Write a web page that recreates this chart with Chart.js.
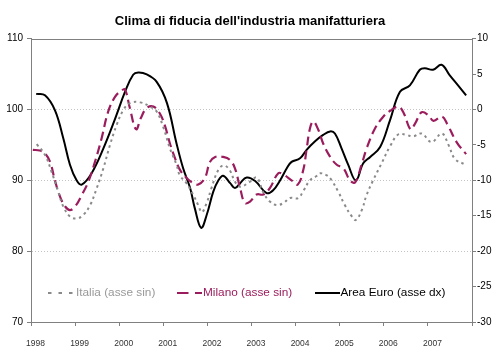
<!DOCTYPE html>
<html>
<head>
<meta charset="utf-8">
<script src="https://cdn.jsdelivr.net/npm/chart.js@4/dist/chart.umd.min.js"></script>
<style>
  html, body { margin: 0; padding: 0; background: #fff; }
  #wrap { width: 500px; height: 346px; position: relative; }
</style>
</head>
<body>
<div id="wrap"><canvas id="c" width="500" height="346"></canvas></div>
<script>
// ---- DATA (x positions in months since Jan 1998) ----
const titleText = "Clima di fiducia dell'industria manifatturiera";
const seriesNames = ["Italia (asse sin)", "Milano (asse sin)", "Area Euro (asse dx)"];
const yearTicks = [1998, 1999, 2000, 2001, 2002, 2003, 2004, 2005, 2006, 2007];

const italiaMonths = [1.55, 3.8, 5.6, 7.4, 8.8, 10.6, 12.4, 14.2, 16.1, 17.9, 19.7, 21.5, 23.3, 25.1, 26.9, 29.7, 32.4, 34.2, 36.0, 37.8, 39.6, 40.5, 42.3, 44.2, 45.5, 46.5, 47.8, 49.1, 51.0, 52.5, 54.1, 55.5, 56.9, 59.6, 61.4, 63.2, 65.0, 66.9, 68.7, 70.5, 72.7, 74.1, 75.9, 77.7, 78.6, 80.5, 81.8, 83.6, 85.4, 87.3, 88.4, 90.0, 91.3, 93.1, 95.4, 97.7, 100.0, 102.2, 104.0, 106.3, 109.0, 111.8, 113.6, 115.4, 118.4];
const italiaValues = [95.1, 93.6, 91.2, 88.4, 86.3, 84.9, 84.6, 85.1, 86.5, 88.9, 91.7, 95.0, 97.8, 99.9, 100.9, 101.0, 100.4, 99.7, 97.5, 94.5, 92.2, 90.7, 89.6, 87.9, 86.5, 85.5, 86.8, 88.9, 91.5, 92.1, 91.4, 89.8, 89.1, 89.8, 90.4, 88.3, 87.0, 86.5, 86.8, 87.5, 87.5, 88.5, 90.0, 90.6, 91.0, 90.7, 90.0, 88.4, 86.5, 84.9, 84.4, 85.8, 87.9, 90.0, 92.4, 94.8, 96.5, 96.4, 96.2, 96.6, 95.4, 96.6, 95.0, 93.0, 92.2];

const milanoMonths = [0.5, 2.4, 3.8, 5.2, 6.5, 7.9, 9.3, 10.6, 12.0, 13.8, 15.6, 17.4, 19.2, 21.0, 22.9, 24.7, 25.6, 26.9, 28.6, 29.9, 31.5, 33.3, 35.1, 36.5, 37.8, 39.2, 40.5, 42.4, 44.2, 45.5, 47.3, 48.7, 50.1, 52.3, 54.1, 55.5, 56.9, 58.2, 59.6, 61.4, 63.2, 65.0, 67.3, 68.7, 70.9, 72.6, 74.1, 75.0, 75.9, 76.8, 78.2, 79.5, 81.4, 83.2, 85.0, 86.8, 88.2, 90.0, 91.4, 93.6, 95.9, 97.7, 100.0, 101.4, 103.3, 104.5, 106.3, 108.1, 109.5, 111.8, 113.3, 115.8, 118.4];
const milanoValues = [94.3, 94.2, 93.8, 92.6, 90.0, 87.7, 86.3, 85.8, 86.3, 87.9, 89.8, 92.6, 95.9, 99.7, 101.8, 102.7, 102.8, 100.2, 97.2, 98.8, 100.2, 100.4, 99.4, 97.6, 95.2, 93.1, 91.5, 90.3, 89.6, 89.4, 90.3, 92.6, 93.3, 93.3, 92.9, 91.7, 88.9, 86.8, 87.0, 88.0, 88.0, 88.9, 91.0, 90.8, 90.0, 89.4, 91.5, 94.4, 97.3, 98.3, 97.1, 95.2, 93.3, 92.2, 91.7, 90.0, 89.7, 92.3, 94.6, 97.3, 99.0, 99.8, 100.4, 99.5, 97.2, 98.0, 99.6, 99.2, 98.4, 99.0, 97.9, 95.4, 93.7];

const euroMonths = [1.4, 3.8, 6.5, 8.8, 10.6, 12.4, 13.8, 16.5, 19.7, 22.9, 25.6, 27.8, 29.2, 31.5, 34.2, 37.0, 39.6, 41.4, 43.3, 44.6, 46.3, 47.8, 49.6, 51.0, 52.3, 54.2, 55.5, 56.9, 58.7, 61.0, 64.1, 65.9, 67.8, 69.6, 70.9, 73.2, 75.0, 77.3, 79.5, 81.4, 82.7, 84.5, 86.3, 88.4, 90.4, 92.3, 95.0, 97.7, 100.4, 103.1, 105.8, 107.2, 109.4, 111.7, 113.9, 116.2, 118.4];
const euroValues = [2.2, 2.0, -0.1, -4.1, -7.8, -10.0, -10.6, -9.0, -5.5, -1.3, 2.5, 4.9, 5.2, 4.95, 3.9, 0.9, -4.8, -8.3, -11.1, -14.0, -16.7, -14.9, -11.6, -10.0, -9.35, -10.4, -11.1, -10.4, -9.6, -10.1, -11.8, -11.4, -10.0, -8.3, -7.4, -6.9, -5.7, -4.5, -3.6, -3.1, -3.4, -5.5, -7.8, -10.0, -7.6, -6.7, -5.3, -1.5, 2.5, 3.4, 5.6, 5.8, 5.6, 6.3, 4.85, 3.4, 2.0];

// ---- build ----
const toPts = (months, vals) => months.map((m, i) => ({ x: 1998 + m / 12, y: vals[i] }));
const GRAY = '#8a8a8a';
const MAROON = '#9b1c5c';
const AXIS = '#808080';
const FONT = "'Liberation Sans', Arial, sans-serif";

const legendItems = [
  { text: seriesNames[0], color: GRAY, textColor: '#999999', dash: [3.5, 7], width: 2, x0: 48, x1: 74, tx: 76 },
  { text: seriesNames[1], color: MAROON, textColor: MAROON, dash: [11.5, 6.5], width: 2.2, x0: 177, x1: 202, tx: 203 },
  { text: seriesNames[2], color: '#000', textColor: '#000', dash: [], width: 2, x0: 315, x1: 340, tx: 340.5 }
];

const framePlugin = {
  id: 'frameLegend',
  afterDraw(chart) {
    const { ctx, chartArea: a } = chart;
    ctx.save();
    ctx.strokeStyle = AXIS;
    ctx.lineWidth = 1;
    ctx.beginPath();
    ctx.moveTo(a.left, Math.round(a.top) + 0.5);
    ctx.lineTo(a.right, Math.round(a.top) + 0.5);
    ctx.stroke();
    // legend inside plot area
    const y = 293;
    ctx.font = '11.8px ' + FONT;
    ctx.textBaseline = 'middle';
    ctx.textAlign = 'left';
    legendItems.forEach(it => {
      ctx.strokeStyle = it.color;
      ctx.lineWidth = it.width;
      ctx.setLineDash(it.dash);
      ctx.beginPath();
      ctx.moveTo(it.x0, y);
      ctx.lineTo(it.x1, y);
      ctx.stroke();
      ctx.setLineDash([]);
      ctx.fillStyle = it.textColor;
      ctx.fillText(it.text, it.tx, y);
    });
    ctx.restore();
  }
};

new Chart(document.getElementById('c'), {
  type: 'line',
  data: {
    datasets: [
      { label: seriesNames[0], data: toPts(italiaMonths, italiaValues), yAxisID: 'y',
        borderColor: GRAY, borderWidth: 2, borderDash: [2.5, 3.5], pointRadius: 0, tension: 0.4, fill: false },
      { label: seriesNames[1], data: toPts(milanoMonths, milanoValues), yAxisID: 'y',
        borderColor: MAROON, borderWidth: 2.2, borderDash: [9, 5], pointRadius: 0, tension: 0.4, fill: false },
      { label: seriesNames[2], data: toPts(euroMonths, euroValues), yAxisID: 'y1',
        borderColor: '#000000', borderWidth: 2, pointRadius: 0, tension: 0.4, fill: false }
    ]
  },
  options: {
    responsive: false,
    animation: false,
    devicePixelRatio: 1,
    layout: { padding: 0 },
    plugins: {
      legend: { display: false },
      tooltip: { enabled: false },
      title: {
        display: true, text: titleText, color: '#000',
        font: { family: FONT, size: 13, weight: 'bold', lineHeight: 1.2 },
        padding: { top: 14, bottom: 9 }
      }
    },
    scales: {
      x: {
        type: 'linear', min: 1998, max: 2008,
        afterBuildTicks: (s) => { s.ticks = yearTicks.concat([2008]).map(v => ({ value: v })); },
        afterFit: (s) => { s.height = 24; },
        grid: { display: true, drawOnChartArea: false, drawTicks: true, tickLength: 4, tickColor: AXIS },
        border: { display: true, color: AXIS, width: 1 },
        ticks: {
          font: { family: FONT, size: 8.5 }, color: '#333333', padding: 13, labelOffset: 4.5,
          maxRotation: 0, autoSkip: false,
          callback: (v) => (yearTicks.includes(v) ? String(v) : '')
        }
      },
      y: {
        position: 'left', min: 70, max: 110,
        afterFit: (s) => { s.width = 31; },
        grid: {
          color: (c) => (c.tick && (c.tick.value === 70 || c.tick.value === 110)) ? 'rgba(0,0,0,0)' : '#c4c4c4',
          lineWidth: 1, drawTicks: true, tickLength: 4, tickColor: AXIS
        },
        border: { display: true, color: AXIS, width: 1, dash: [1, 2] },
        ticks: { stepSize: 10, font: { family: FONT, size: 10 }, color: '#000', padding: 4 }
      },
      y1: {
        position: 'right', min: -30, max: 10,
        afterFit: (s) => { s.width = 28; },
        grid: { drawOnChartArea: false, drawTicks: true, tickLength: 4, tickColor: AXIS },
        border: { display: true, color: AXIS, width: 1 },
        ticks: { stepSize: 5, font: { family: FONT, size: 10 }, color: '#000', padding: 1 }
      }
    }
  },
  plugins: [framePlugin]
});
</script>
</body>
</html>
